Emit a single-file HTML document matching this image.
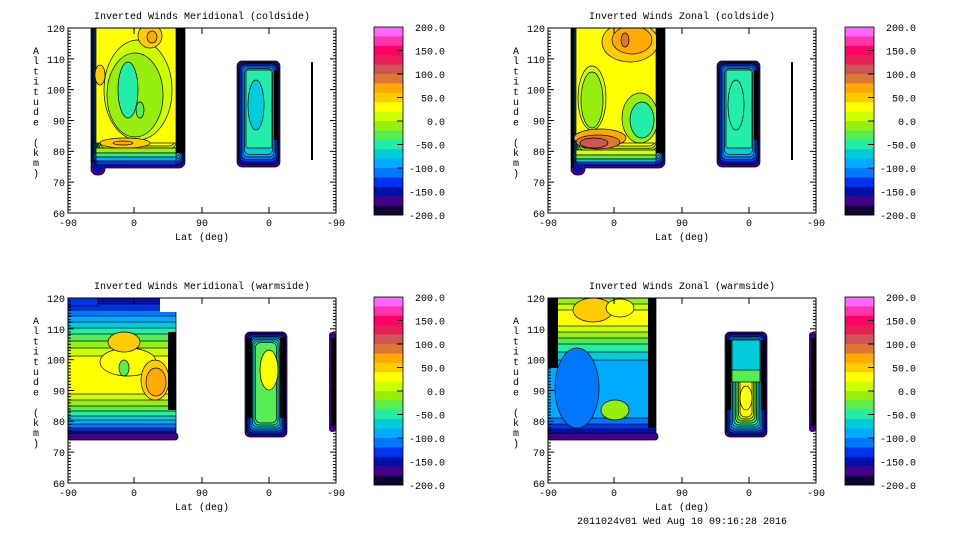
<!DOCTYPE html>
<html><head><meta charset="utf-8"><style>
body{margin:0;background:#fff;width:960px;height:540px;overflow:hidden}
svg{display:block}
text{font-family:"Liberation Mono","DejaVu Sans Mono",monospace;font-size:10px;fill:#000}
</style></head><body>
<svg id="s" width="960" height="540" xmlns="http://www.w3.org/2000/svg"></svg>
<script>
const C=["#ff66ff","#ff33aa","#ff0066","#e62255","#cc5555","#dd7733","#ffaa00","#ffcc00","#ffff00","#ccff00","#99ee11","#55ee55","#22eeaa","#00ccdd","#00aaff","#0077ff","#0033ee","#0011aa","#440088","#110033"];
let out="";
function R(x,y,w,h,f,rx,st){out+=`<rect x="${x}" y="${y}" width="${w}" height="${h}" fill="${f}" rx="${rx||0}" ${st?'stroke="#000" stroke-width="0.7"':''}/>`;}
function E(cx,cy,rx,ry,f){out+=`<ellipse cx="${cx}" cy="${cy}" rx="${rx}" ry="${ry}" fill="${f}" stroke="#000" stroke-width="0.7"/>`;}
function T(x,y,t,a){out+=`<text x="${x}" y="${y}" text-anchor="${a||'start'}">${t}</text>`;}
function nest(ox,oy,x1,y1,x2,y2,cols,sx,sb,st,r){
  for(let i=0;i<cols.length;i++){
    const a=x1+i*sx,b=y1+i*st,c=x2-i*sx,d=y2-i*sb;
    if(c>a&&d>b)R(ox+a,oy+b,c-a,d-b,C[cols[i]],r,1);
  }
}
function panel(ox,oy,title,kind){
  const L=ox+68,Rr=ox+336,Tp=oy+28,B=oy+213;
  out+=`<clipPath id="c${ox}${oy}"><rect x="${L}" y="${Tp}" width="${Rr-L}" height="${B-Tp}"/></clipPath><g clip-path="url(#c${ox}${oy})">`;
  if(kind==0||kind==1){
    nest(ox,oy,91,10,185,168,[18,17,16,15,14,13,12,11,10,9,8],1,2.2,0,6);
    R(ox+91,oy+160,14,15,C[18],6,1);R(ox+93,oy+160,10,12,C[17],5,0);
    if(kind==0){
      R(ox+96,oy+28,80,115,C[8],0,1);
      E(ox+138,oy+90,34,50,C[9]);E(ox+135,oy+95,28,42,C[10]);
      E(ox+128,oy+90,10,28,C[12]);E(ox+140,oy+110,4,8,C[11]);
      E(ox+150,oy+36,12,12,C[7]);E(ox+152,oy+37,5,6,C[6]);
      E(ox+100,oy+75,5,10,C[7]);
      E(ox+125,oy+143,25,5,C[7]);E(ox+123,oy+143,10,2,C[6]);
      R(ox+96,oy+148,80,5,C[10],0,1);R(ox+96,oy+153,80,4,C[12],0,1);R(ox+96,oy+157,80,4,C[14],0,1);R(ox+96,oy+161,80,4,C[16],0,1);
    }else{
      R(ox+96,oy+28,80,115,C[8],0,1);
      E(ox+150,oy+42,28,20,C[7]);E(ox+152,oy+40,20,14,C[6]);E(ox+145,oy+40,4,7,C[5]);
      E(ox+112,oy+98,14,32,C[9]);E(ox+112,oy+100,11,28,C[10]);
      E(ox+160,oy+118,18,25,C[10]);E(ox+162,oy+120,12,18,C[12]);
      E(ox+120,oy+138,26,9,C[6]);E(ox+118,oy+142,22,7,C[5]);E(ox+114,oy+143,14,5,C[4]);
      R(ox+96,oy+150,80,5,C[9],0,1);R(ox+96,oy+155,80,4,C[11],0,1);R(ox+96,oy+159,80,3,C[13],0,1);R(ox+96,oy+162,80,3,C[16],0,1);
      R(ox+91,oy+28,3,140,"#000");
    }
    R(ox+176,oy+28,9,125,"#000");
    nest(ox,oy,237,61,280,167,[18,17,16,15,14,13],1.5,2.5,1.5,5);
    R(ox+246,oy+70,26,78,C[12],2,1);
    E(ox+256,oy+105,8,25,kind==0?C[13]:C[12]);
    R(ox+274,oy+70,4,70,"#000");
    R(ox+311,oy+62,2,98,"#000");
  } else {
    const bands = kind==2?
      [[28,17],[34,16],[40,15],[46,14],[52,13],[58,12],[64,11],[71,10],[78,9],[86,8],[124,9],[130,10],[136,11],[141,12],[146,13],[150,14],[154,15],[158,16],[161,17],[164,18]]:
      [[28,10],[34,9],[40,8],[56,9],[62,10],[68,11],[74,12],[82,13],[90,14],[148,15],[154,16],[159,17],[164,18]];
    for(let i=0;i<bands.length;i++){const y=bands[i][0],y2=(i+1<bands.length?bands[i+1][0]:168);R(ox+68,oy+y,108,y2-y+0.5,C[bands[i][1]],0,1);}
    R(ox+68,oy+163,110,7,C[18],3,1);
    if(kind==2){
      R(ox+68,oy+28,30,8,C[16],0,1);
      E(ox+128,oy+92,28,14,C[8]);E(ox+124,oy+72,16,10,C[7]);
      E(ox+155,oy+110,14,20,C[7]);E(ox+156,oy+112,10,14,C[6]);
      E(ox+124,oy+98,5,8,C[11]);
      R(ox+160,oy+28,20,14,"#fff");
      R(ox+168,oy+62,8,78,"#000");
      nest(ox,oy,245,62,287,167,[18,17,16,15,14,13,12,11],1.5,2,1.5,5);
      E(ox+269,oy+100,9,20,C[8]);
      R(ox+246,oy+68,6,80,"#000");R(ox+280,oy+68,6,80,"#000");
      R(ox+329,oy+62,7,100,C[18],3);R(ox+331,oy+68,5,88,"#000");
    } else {
      R(ox+68,oy+28,10,70,"#000");R(ox+168,oy+28,8,130,"#000");
      E(ox+113,oy+40,20,12,C[7]);E(ox+140,oy+38,14,9,C[8]);
      E(ox+97,oy+118,22,40,C[15]);E(ox+135,oy+140,14,10,C[10]);
      nest(ox,oy,245,62,287,167,[18,17,16,15,14,13,12,11,10,9,8],1.5,2,1.5,5);
      R(ox+252,oy+70,28,30,C[13],0,1);R(ox+252,oy+100,28,12,C[11],0,1);
      E(ox+266,oy+128,6,12,C[8]);
      R(ox+246,oy+70,5,70,"#000");R(ox+281,oy+70,5,70,"#000");
      R(ox+329,oy+62,7,100,C[18],3);R(ox+331,oy+68,5,88,"#000");
    }
  }
  out+=`</g>`;
  out+=`<rect x="${L}" y="${Tp}" width="${Rr-L}" height="${B-Tp}" fill="none" stroke="#000" stroke-width="1"/>`;
  let p="";
  for(let k=0;k<=60;k++){const y=Tp+k*(B-Tp)/60;const len=k%10==0?6:3;p+=`M${L} ${y}h${len}M${Rr} ${y}h${-len}`;}
  [68,134,202,269,336].forEach(x=>{p+=`M${ox+x} ${B}v-6M${ox+x} ${Tp}v6`;});
  out+=`<path d="${p}" stroke="#000" stroke-width="1" fill="none"/>`;
  [120,110,100,90,80,70,60].forEach((v,i)=>T(L-3,Tp+i*30.8+4,v,"end"));
  [["-90",68],["0",134],["90",202],["0",269],["-90",336]].forEach(a=>T(ox+a[1],B+13,a[0],"middle"));
  T(ox+202,B+27,"Lat (deg)","middle");
  T(ox+202,oy+19,title,"middle");
  "Altitude (km)".split("").forEach((ch,i)=>{if(ch!=" ")T(ox+36,oy+54+i*10.2,ch,"middle");});
  const cx=ox?ox+365:374,cw=29,ch=188/20;
  for(let i=0;i<20;i++)R(cx,oy+27+i*ch,cw,ch+0.4,C[i]);
  out+=`<rect x="${cx}" y="${oy+27}" width="${cw}" height="188" fill="none" stroke="#000" stroke-width="0.8"/>`;
  let q="";["200.0","150.0","100.0","50.0","0.0","-50.0","-100.0","-150.0","-200.0"].forEach((t,i)=>{const y=oy+27+i*23.5;T(cx+71,y+4,t,"end");if(i>0&&i<8)q+=`M${cx+cw} ${y}h-6`;});
  out+=`<path d="${q}" stroke="#000"/>`;
}
panel(0,0,"Inverted Winds Meridional (coldside)",0);
panel(480,0,"Inverted Winds Zonal (coldside)",1);
panel(0,270,"Inverted Winds Meridional (warmside)",2);
panel(480,270,"Inverted Winds Zonal (warmside)",3);
T(682,524,"2011024v01 Wed Aug 10 09:16:28 2016","middle");
document.getElementById("s").innerHTML=out;
</script>
</body></html>
